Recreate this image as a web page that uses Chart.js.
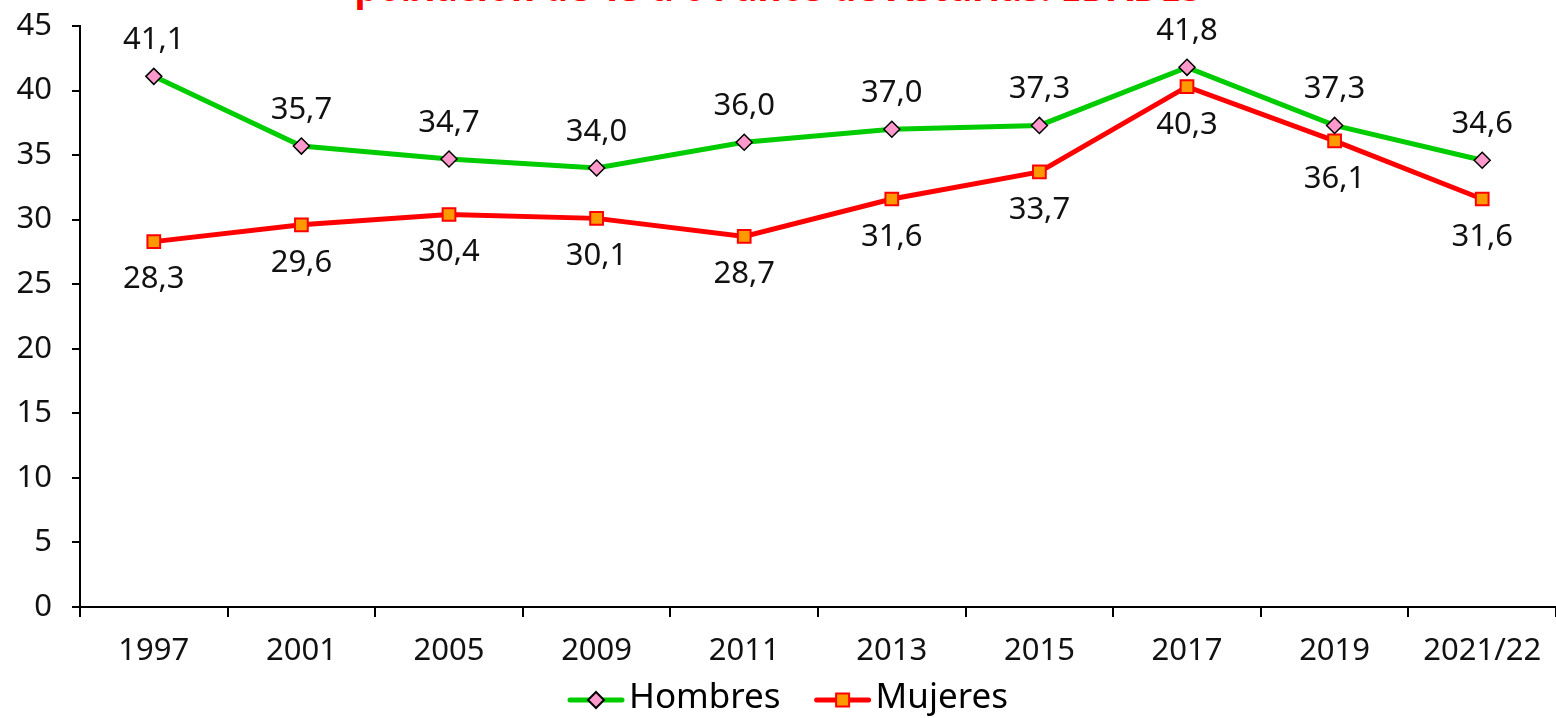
<!DOCTYPE html>
<html>
<head>
<meta charset="utf-8">
<script src="https://cdn.jsdelivr.net/npm/chart.js@4"></script>
<style>
  html, body { margin: 0; padding: 0; background: #fff; overflow: hidden; }
  #wrap { position: relative; width: 1556px; height: 718px; }
  #titulo {
    position: absolute; top: -39px; left: 0; width: 1556px; text-align: center;
    font-family: 'Noto Sans', sans-serif; font-weight: bold; font-size: 37px; color: #ff0000;
    white-space: nowrap;
  }
  canvas { position: absolute; top: 0; left: 0; }
</style>
</head>
<body>
<div id="wrap">
  <div id="titulo">población de 15 a 64 años de Asturias. EDADES</div>
  <canvas id="grafico" width="1556" height="718"></canvas>
</div>
<script>
const anios = ['1997', '2001', '2005', '2009', '2011', '2013', '2015', '2017', '2019', '2021/22'];
const hombres = [41.1, 35.7, 34.7, 34.0, 36.0, 37.0, 37.3, 41.8, 37.3, 34.6];
const mujeres = [28.3, 29.6, 30.4, 30.1, 28.7, 31.6, 33.7, 40.3, 36.1, 31.6];
const ticksY = [0, 5, 10, 15, 20, 25, 30, 35, 40, 45];

Chart.defaults.font.family = "'Noto Sans', sans-serif";
Chart.defaults.color = '#111';

// marcador: rombo rosa o cuadro naranja
function marcador(g, x, y, forma) {
    g.beginPath();
    if (forma === 'rombo') {
        g.fillStyle = '#ff99cc'; g.strokeStyle = '#000';
        g.moveTo(x, y - 8); g.lineTo(x + 8, y); g.lineTo(x, y + 8); g.lineTo(x - 8, y); g.closePath();
    } else {
        g.fillStyle = '#ff9900'; g.strokeStyle = '#ff0000';
        g.rect(x - 6.5, y - 6.5, 13, 13);
    }
    g.lineWidth = 2;
    g.fill(); g.stroke();
}

// leyenda dibujada a mano (linea + marcador + texto)
const leyenda = {
    id: 'leyenda',
    afterDraw(chart) {
        const ctx = chart.ctx;
        const items = [
            { texto: 'Hombres', color: '#00cc00', forma: 'rombo' },
            { texto: 'Mujeres', color: '#ff0000', forma: 'cuadro' }
        ];
        const y = 700;
        let x = 568;
        ctx.save();
        ctx.font = "35px 'Noto Sans', sans-serif";
        ctx.textBaseline = 'middle';
        items.forEach(it => {
            ctx.strokeStyle = it.color; ctx.lineWidth = 5; ctx.lineCap = 'round';
            ctx.beginPath(); ctx.moveTo(x + 2, y); ctx.lineTo(x + 54, y); ctx.stroke();
            marcador(ctx, x + 28, y, it.forma);
            ctx.fillStyle = '#000';
            ctx.fillText(it.texto, x + 61, y - 2);
            x += 61 + ctx.measureText(it.texto).width + 34;
        });
        ctx.restore();
    }
};

// etiquetas de valores
const etiquetas = {
    id: 'etiquetas',
    afterDatasetsDraw(chart) {
        const ctx = chart.ctx;
        ctx.save();
        ctx.font = "31px 'Noto Sans', sans-serif";
        ctx.fillStyle = '#111';
        ctx.textAlign = 'center';
        ctx.textBaseline = 'middle';
        chart.data.datasets.forEach((ds, i) => {
            const meta = chart.getDatasetMeta(i);
            const dy = i === 0 ? -36 : 38;
            meta.data.forEach((p, j) => {
                ctx.fillText(ds.data[j].toFixed(1).replace('.', ','), p.x, p.y + dy);
            });
        });
        ctx.restore();
    }
};

new Chart(document.getElementById('grafico'), {
    type: 'line',
    data: {
        labels: anios,
        datasets: [{
            label: 'Hombres',
            data: hombres,
            borderColor: '#00cc00',
            borderWidth: 5,
            pointStyle: 'rectRot',
            pointRadius: 8,
            pointBackgroundColor: '#ff99cc',
            pointBorderColor: '#000',
            pointBorderWidth: 1.5,
            tension: 0
        }, {
            label: 'Mujeres',
            data: mujeres,
            borderColor: '#ff0000',
            borderWidth: 5,
            pointStyle: 'rect',
            pointRadius: 9,
            pointBackgroundColor: '#ff9900',
            pointBorderColor: '#ff0000',
            pointBorderWidth: 2,
            tension: 0
        }]
    },
    options: {
        responsive: false,
        animation: false,
        layout: { autoPadding: false, padding: { top: 26, right: 0, left: 0, bottom: 0 } },
        plugins: {
            legend: { display: false },
            tooltip: { enabled: false }
        },
        scales: {
            x: {
                offset: true,
                afterFit(scale) { scale.height = 111; scale.paddingLeft = 0; scale.paddingRight = 0; },
                grid: { offset: true, drawOnChartArea: false, drawTicks: true, tickLength: 10, tickColor: '#000', lineWidth: 2 },
                border: { color: '#000', width: 2 },
                ticks: { font: { size: 31 }, color: '#111', padding: 16, maxRotation: 0 }
            },
            y: {
                min: 0,
                max: 45,
                afterFit(scale) { scale.width = 80; scale.paddingTop = 0; scale.paddingBottom = 0; },
                afterBuildTicks(scale) { scale.ticks = ticksY.map(v => ({ value: v })); },
                grid: { drawOnChartArea: false, drawTicks: true, tickLength: 8, tickColor: '#000', lineWidth: 2 },
                border: { color: '#000', width: 2 },
                ticks: { font: { size: 31 }, color: '#111', padding: 20 }
            }
        }
    },
    plugins: [etiquetas, leyenda]
});
</script>
</body>
</html>
